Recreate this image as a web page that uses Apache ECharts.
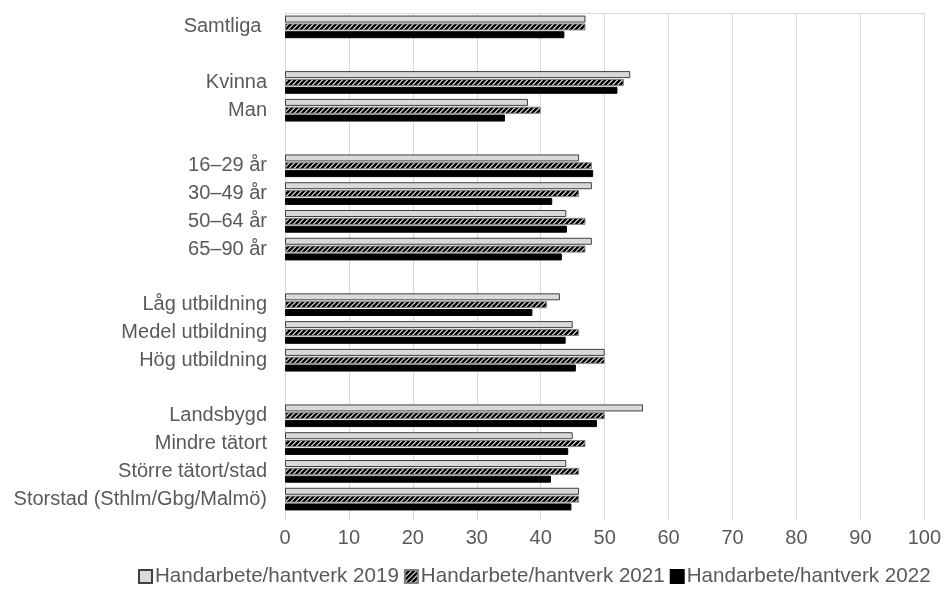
<!DOCTYPE html>
<html><head><meta charset="utf-8">
<script src="https://cdn.jsdelivr.net/npm/echarts@6/dist/echarts.min.js"></script>
<style>html,body{margin:0;padding:0;background:#fff}#c{width:944px;height:596px}</style>
</head><body><div id="c"></div>
<script>
const categories = ['Samtliga ', '', 'Kvinna', 'Man', '', '16–29 år', '30–49 år', '50–64 år', '65–90 år', '', 'Låg utbildning', 'Medel utbildning', 'Hög utbildning', '', 'Landsbygd', 'Mindre tätort', 'Större tätort/stad', 'Storstad (Sthlm/Gbg/Malmö)'];
const s2019 = [47, null, 54, 38, null, 46, 48, 44, 48, null, 43, 45, 50, null, 56, 45, 44, 46];
const s2021 = [47, null, 53, 40, null, 48, 46, 47, 47, null, 41, 46, 50, null, 50, 47, 46, 46];
const s2022 = [43.7, null, 52, 34.4, null, 48.2, 41.8, 44.1, 43.3, null, 38.7, 43.9, 45.5, null, 48.8, 44.3, 41.6, 44.8];
const seriesNames = ['Handarbete/hantverk 2019', 'Handarbete/hantverk 2021', 'Handarbete/hantverk 2022'];
const xTicks = [0, 10, 20, 30, 40, 50, 60, 70, 80, 90, 100];

function hatch() {
  const c = document.createElement('canvas');
  c.width = 5; c.height = 5;
  const g = c.getContext('2d');
  g.fillStyle = '#ffffff';
  g.fillRect(0, 0, 5, 5);
  g.strokeStyle = '#000000';
  g.lineWidth = 2.6;
  g.beginPath();
  g.moveTo(-1, 6); g.lineTo(6, -1);
  g.moveTo(-1, 1); g.lineTo(1, -1);
  g.moveTo(4, 6); g.lineTo(6, 4);
  g.stroke();
  return c;
}
const hatchColor = { image: hatch(), repeat: 'repeat' };

const chart = echarts.init(document.getElementById('c'), null, { renderer: 'canvas' });
const font = 'Liberation Sans, Arial, sans-serif';
chart.setOption({
  animation: false,
  textStyle: { fontFamily: font },
  grid: { left: 285, right: 19, top: 13, height: 500 },
  legend: {
    bottom: 4, left: 133,
    icon: 'rect',
    itemWidth: 13, itemHeight: 13, itemGap: 5,
    textStyle: { fontSize: 20.6, color: '#595959', fontFamily: font, padding: [0, 0, 0, -2] },
    data: seriesNames
  },
  xAxis: [{
    type: 'value', min: 0, max: 100, interval: 10,
    axisLine: { show: false },
    axisTick: { show: true, length: 7, lineStyle: { color: '#d9d9d9' } },
    splitLine: { show: true, lineStyle: { color: '#d9d9d9', width: 1 } },
    axisLabel: { fontSize: 20, color: '#595959', margin: 15, fontFamily: font,
      formatter: v => xTicks.includes(v) ? String(v) : '' }
  }, {
    type: 'value', min: 0, max: 100, position: 'top',
    axisLine: { show: true, lineStyle: { color: '#d9d9d9' } },
    axisTick: { show: false }, axisLabel: { show: false }, splitLine: { show: false }
  }],
  yAxis: {
    type: 'category', data: categories, inverse: true,
    axisLine: { show: true, lineStyle: { color: '#d9d9d9' } },
    axisTick: { show: false },
    axisLabel: { fontSize: 20, color: '#595959', margin: 18, fontFamily: font }
  },
  series: [
    { name: seriesNames[0], type: 'bar', data: s2019, barWidth: 7, barGap: '12%',
      itemStyle: { color: '#d9d9d9', borderColor: '#404040', borderWidth: 1 } },
    { name: seriesNames[1], type: 'bar', data: s2021, barWidth: 7, barGap: '12%',
      itemStyle: { color: hatchColor, borderColor: '#7f7f7f', borderWidth: 1 } },
    { name: seriesNames[2], type: 'bar', data: s2022, barWidth: 7, barGap: '12%',
      itemStyle: { color: '#000000', borderColor: '#000000', borderWidth: 1 } }
  ]
});
</script></body></html>
